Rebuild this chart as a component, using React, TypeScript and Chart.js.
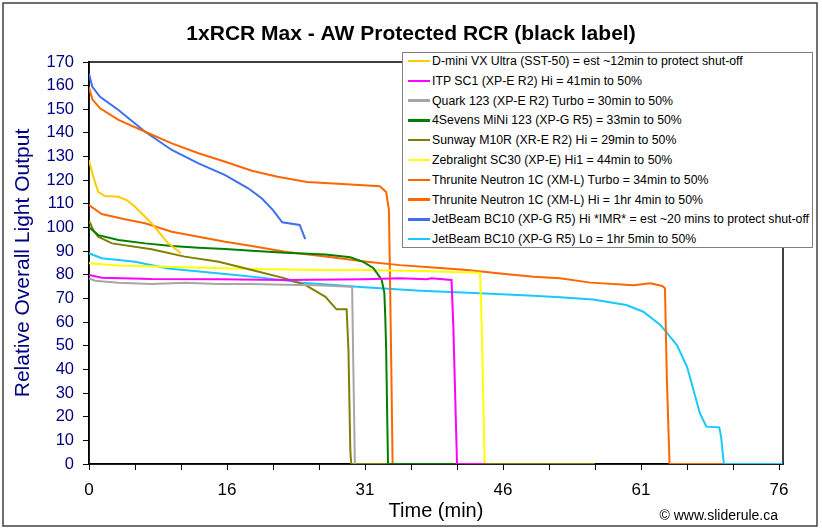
import React, { useEffect, useRef } from 'react';
import { Chart, registerables } from 'chart.js';

Chart.register(...registerables);

const chartTitle = '1xRCR Max - AW Protected RCR (black label)';
const xAxisTitle = 'Time (min)';
const yAxisTitle = 'Relative Overall Light Output';
const credit = '© www.sliderule.ca';

// x positions are in axis units: one labelled interval = 15 units
const xTickLabels = ['0', '16', '31', '46', '61', '76'];
const xMinorStep = 5;
const xLabelStep = 15;
const xMax = 75.43;
const yMax = 170;
const yStep = 10;

const dminiX = [0, 0.47, 1.0, 1.74, 3.2, 4.1, 5.0, 6.8, 8.6, 10.0];
const dminiY = [128.5, 121.5, 115.1, 113.3, 113, 111.6, 108.8, 101.8, 93.3, 89.1];

const itpX = [0, 1.4, 6.8, 14.1, 21.3, 29.9, 33.8, 36.7, 37.2, 39.4, 39.6, 40.0, 43];
const itpY = [79.9, 78.8, 78.2, 78.1, 77.8, 78.1, 78.5, 78.1, 78.5, 77.8, 58, 0, 0];

const quarkX = [0, 0.65, 3.2, 6.8, 9.0, 10.4, 14.1, 17.7, 21.3, 24.9, 28.4, 28.6, 28.7, 28.9];
const quarkY = [78.5, 77.5, 76.7, 76.1, 76.4, 76.7, 76.1, 76.1, 75.8, 75.6, 75, 75, 48.2, 0];

const sevensX = [0, 1.0, 3.2, 6.1, 9.0, 11.9, 14.8, 17.7, 21.3, 25.7, 28.4, 29.8, 30.9, 31.8, 32.1, 32.2, 32.3, 32.4, 32.5, 41.6];
const sevensY = [100.1, 96.8, 94.7, 93.3, 92.2, 91.5, 90.9, 90.2, 89.3, 88.6, 87.4, 85.5, 82.9, 78, 72.5, 62.3, 48.2, 22.8, 0, 0];

const sunwayX = [0, 0.47, 1.0, 2.5, 6.8, 10.4, 14.1, 17.7, 21.3, 23.5, 25.7, 26.9, 28.0, 28.2, 28.4, 28.5, 55];
const sunwayY = [102.9, 98.9, 96.1, 93.3, 90.8, 87.7, 85.5, 82, 78.5, 75.7, 70.7, 65.4, 65.4, 48.2, 5.9, 0, 0];

const zebraX = [0, 3.2, 10.4, 17.7, 24.9, 29.9, 36, 42.5, 42.7, 43.0, 43.2];
const zebraY = [84.9, 83.9, 83.2, 82.5, 82, 82, 81.6, 80.9, 56.7, 0, 0];

const turboX = [0, 0.36, 1.2, 3.2, 6.1, 9.0, 11.9, 14.8, 17.7, 20.5, 23.7, 28.0, 31.6, 32.3, 32.6, 32.8, 33.0, 38.5];
const turboY = [159.3, 154.2, 150.4, 145.5, 140.5, 135.6, 131.4, 127.8, 124, 121.5, 119.3, 118.3, 117.5, 115, 107.4, 56.7, 0, 0];

const hiX = [0, 1.38, 3.9, 6.1, 9.0, 11.9, 14.8, 17.7, 21.3, 25.7, 30.2, 33.8, 37.4, 41.1, 44.7, 48.3, 51.2, 54.5, 59.2, 61.0, 62.3, 62.6, 62.8, 63.1, 68.9];
const hiY = [109.5, 105.7, 103.5, 101.8, 98.2, 96.1, 94, 92.2, 89.8, 87.7, 85.5, 84.1, 83.1, 82, 80.6, 79.2, 78.5, 76.7, 75.6, 76.4, 75.3, 74.3, 36.9, 0, 0];

const blueX = [0, 0.36, 1.2, 3.2, 6.1, 9.0, 11.9, 14.8, 17.3, 18.8, 20.0, 21.0, 22.9, 23.5];
const blueY = [165, 159.5, 155.3, 149.7, 140.5, 132.8, 127.1, 122.2, 116.6, 112.3, 107.4, 102.2, 101.1, 95.1];

const cyanX = [0, 1.38, 5.0, 8.6, 12.25, 15.9, 19.5, 23.1, 26.7, 29.9, 36.0, 42.5, 48.3, 51.2, 54.8, 58.4, 60.25, 62.1, 63.9, 65.0, 65.7, 66.4, 67.1, 68.5, 68.7, 69.0, 75.4];
const cyanY = [89.1, 87, 85.5, 82.7, 81.3, 79.9, 78.5, 76.7, 75.7, 74.7, 73.3, 72.2, 71.2, 70.5, 69.6, 67.2, 64.4, 58.8, 50.3, 41.1, 31.3, 21.4, 15.8, 15.5, 11.6, 0, 0];

const seriesLabels = [
  'D-mini VX Ultra (SST-50) = est ~12min to protect shut-off',
  'ITP SC1 (XP-E R2) Hi = 41min to 50%',
  'Quark 123 (XP-E R2) Turbo = 30min to 50%',
  '4Sevens MiNi 123 (XP-G R5) = 33min to 50%',
  'Sunway M10R (XR-E R2) Hi = 29min to 50%',
  'Zebralight SC30 (XP-E) Hi1 = 44min to 50%',
  'Thrunite Neutron 1C (XM-L) Turbo = 34min to 50%',
  'Thrunite Neutron 1C (XM-L) Hi = 1hr 4min to 50%',
  'JetBeam BC10 (XP-G R5) Hi *IMR* = est ~20 mins to protect shut-off',
  'JetBeam BC10 (XP-G R5) Lo = 1hr 5min to 50%',
];
const seriesColors = ['#FFCC00', '#FF00FF', '#A6A6A6', '#008000', '#808000', '#FFFF00', '#FF6600', '#FF6600', '#3F6FF0', '#19C8FF'];
const seriesX = [dminiX, itpX, quarkX, sevensX, sunwayX, zebraX, turboX, hiX, blueX, cyanX];
const seriesY = [dminiY, itpY, quarkY, sevensY, sunwayY, zebraY, turboY, hiY, blueY, cyanY];

const FONT = '"Liberation Sans", Arial, sans-serif';
const NAVY = '#000080';

export default function App() {
  const canvasRef = useRef<HTMLCanvasElement | null>(null);

  useEffect(() => {
    document.body.style.margin = '0';
    const canvas = canvasRef.current;
    if (!canvas) return;

    const framePlugin = {
      id: 'frame',
      beforeDraw(chart: any) {
        const { ctx, width, height } = chart;
        ctx.save();
        ctx.fillStyle = '#fff';
        ctx.fillRect(0, 0, width, height);
        ctx.strokeStyle = '#404040';
        ctx.lineWidth = 1.5;
        ctx.strokeRect(3, 3, width - 8, height - 7);
        ctx.restore();
      },
      beforeDatasetsDraw(chart: any) {
        const { ctx, chartArea } = chart;
        ctx.save();
        ctx.strokeStyle = '#000';
        ctx.lineWidth = 1.5;
        ctx.strokeRect(chartArea.left, chartArea.top, chartArea.right - chartArea.left, chartArea.bottom - chartArea.top);
        ctx.restore();
      },
      afterDraw(chart: any) {
        const { ctx } = chart;
        ctx.save();
        ctx.fillStyle = '#000';
        ctx.font = 'bold 21px ' + FONT;
        ctx.textAlign = 'center';
        ctx.textBaseline = 'middle';
        ctx.fillText(chartTitle, 411, 34);
        ctx.font = '14px ' + FONT;
        ctx.textAlign = 'right';
        ctx.fillText(credit, 778, 516);
        ctx.restore();
      },
    };

    const chart = new Chart(canvas, {
      type: 'line',
      data: {
        datasets: seriesLabels.map((label, i) => ({
          label,
          data: seriesX[i].map((x, j) => ({ x, y: seriesY[i][j] })),
          borderColor: seriesColors[i],
          backgroundColor: seriesColors[i],
          borderWidth: 2,
          pointRadius: 0,
          tension: 0,
          fill: false,
        })),
      },
      options: {
        animation: false,
        responsive: false,
        events: [],
        layout: { padding: { top: 62, right: 39, bottom: 0, left: 0 } },
        plugins: {
          legend: { display: false },
          tooltip: { enabled: false },
          title: { display: false },
        },
        scales: {
          x: {
            type: 'linear',
            min: 0,
            max: xMax,
            afterFit(scale: any) {
              scale.height = 66;
            },
            afterBuildTicks(scale: any) {
              const t = [];
              for (let v = 0; v <= xLabelStep * (xTickLabels.length - 1); v += xMinorStep) t.push({ value: v });
              scale.ticks = t;
            },
            ticks: {
              autoSkip: false,
              maxRotation: 0,
              color: '#000',
              padding: 10,
              font: { family: FONT, size: 17 },
              callback: (v: any) => (v % xLabelStep === 0 ? xTickLabels[v / xLabelStep] : ''),
            },
            grid: { drawOnChartArea: false, drawTicks: true, tickLength: 6, color: '#000', lineWidth: 1 },
            border: { display: true, color: '#000', width: 1.5 },
            title: {
              display: true,
              text: xAxisTitle,
              color: '#000',
              font: { family: FONT, size: 20 },
              padding: { top: 0, bottom: 7 },
            },
          },
          y: {
            type: 'linear',
            min: 0,
            max: yMax,
            afterFit(scale: any) {
              scale.width = 89;
            },
            ticks: {
              stepSize: yStep,
              color: NAVY,
              padding: 9,
              font: { family: FONT, size: 16.5 },
            },
            grid: { drawOnChartArea: false, drawTicks: true, tickLength: 6, color: '#000', lineWidth: 1 },
            border: { display: true, color: '#000', width: 1.5 },
            title: {
              display: true,
              text: yAxisTitle,
              color: NAVY,
              font: { family: FONT, size: 21 },
              padding: { top: 11, bottom: 0 },
            },
          },
        },
      },
      plugins: [framePlugin],
    });

    return () => chart.destroy();
  }, []);

  return (
    <div style={{ position: 'relative', width: 822, height: 530 }}>
      <canvas ref={canvasRef} width={822} height={530} style={{ width: 822, height: 530, display: 'block' }} />
      <div
        style={{
          position: 'absolute',
          left: 402,
          top: 52,
          width: 411,
          height: 196,
          boxSizing: 'border-box',
          border: '1px solid #808080',
          background: '#fff',
          fontFamily: FONT,
          fontSize: 12.3,
          color: '#000',
        }}
      >
        {seriesLabels.map((label, i) => (
          <div
            key={label}
            style={{ position: 'absolute', left: 0, top: 8 + i * 19.8 - 8, height: 16, width: 409, whiteSpace: 'nowrap' }}
          >
            <div
              style={{
                position: 'absolute',
                left: 4.5,
                top: 6.8,
                width: 22,
                height: 2.4,
                background: seriesColors[i],
              }}
            />
            <span style={{ position: 'absolute', left: 29, top: 0, lineHeight: '16px' }}>{label}</span>
          </div>
        ))}
      </div>
    </div>
  );
}
